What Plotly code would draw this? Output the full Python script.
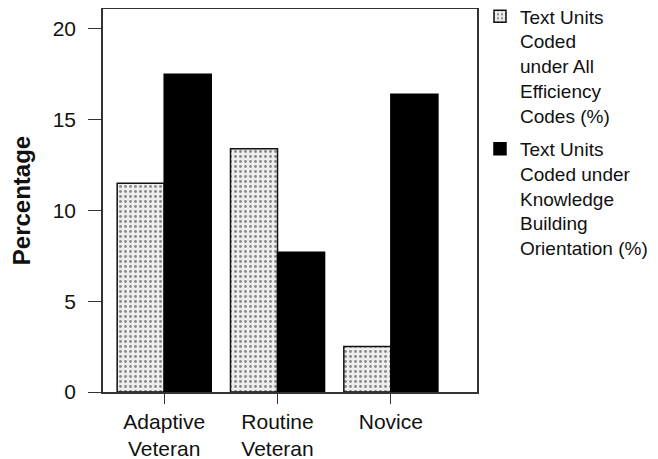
import plotly.graph_objects as go

categories = ["Adaptive<br>Veteran", "Routine<br>Veteran", "Novice"]
efficiency = [11.5, 13.4, 2.5]
knowledge = [17.5, 7.7, 16.4]
series_names = [
    "Text Units<br>Coded<br>under All<br>Efficiency<br>Codes (%)",
    "Text Units<br>Coded under<br>Knowledge<br>Building<br>Orientation (%)",
]
y_ticks = [0, 5, 10, 15, 20]

FONT = "Liberation Sans, Arial, sans-serif"

fig = go.Figure()
fig.add_trace(go.Bar(
    x=categories, y=efficiency, name=series_names[0], legendgroup="a",
    marker=dict(color="#eeeeee",
                line=dict(color="#111", width=1.5),
                pattern=dict(shape=".", fgcolor="#222", bgcolor="#eeeeee",
                             size=5, solidity=0.25)),
))
fig.add_trace(go.Bar(
    x=categories, y=knowledge, name=series_names[1], legendgroup="b",
    marker=dict(color="black", line=dict(color="black", width=1.5)),
))

# page body has an 8px default margin; compensate so the figure fills 658x459
fig.update_layout(
    width=650, height=451,
    margin=dict(l=95, r=181, t=1, b=67, autoexpand=False),
    paper_bgcolor="white", plot_bgcolor="white",
    font=dict(family=FONT, size=21, color="#111"),
    barmode="group", bargap=0.17, bargroupgap=0,
    legend=dict(x=1.008, y=1.03, xanchor="left", yanchor="top",
                font=dict(size=19), traceorder="grouped", tracegroupgap=6,
                valign="top", maxheight=450,
                bgcolor="rgba(0,0,0,0)"),
    showlegend=True,
)
fig.update_xaxes(
    range=[-0.54, 2.76], showline=True, linecolor="#333", linewidth=1.5,
    mirror=True, ticks="outside", ticklen=10, tickcolor="#333", tickwidth=1,
    showgrid=False, tickfont=dict(size=21),
)
fig.update_yaxes(
    range=[0, 21.1], tickvals=y_ticks, showline=True, linecolor="#333",
    linewidth=1.5, mirror=True, ticks="outside", ticklen=13, tickcolor="#333",
    tickwidth=1, showgrid=False, zeroline=False, ticklabelstandoff=8,
    title=dict(text="<b>Percentage</b>", font=dict(size=24), standoff=15),
)

fig.write_html("out.html")
